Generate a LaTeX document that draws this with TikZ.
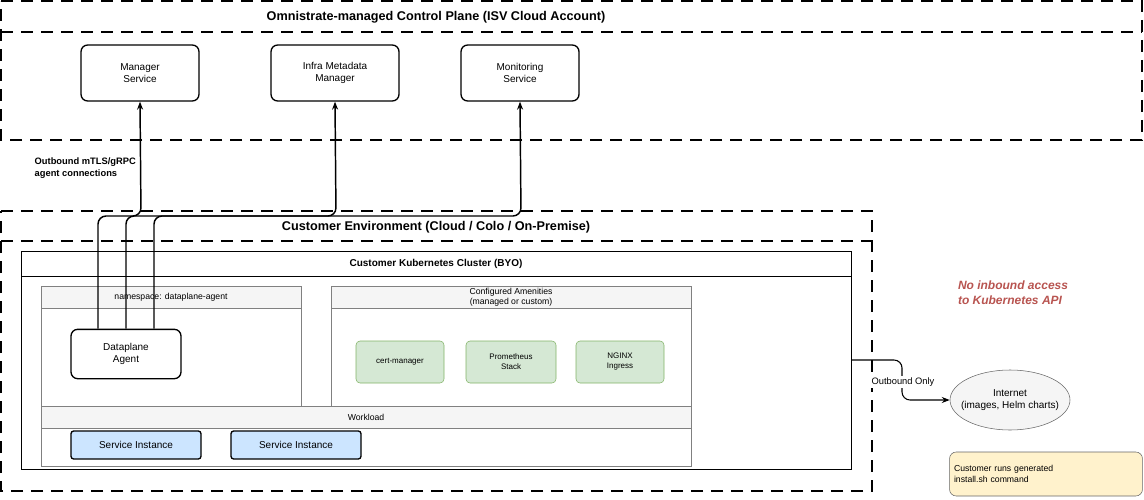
\documentclass[tikz,border=0pt]{standalone}
\usepackage{fontspec}
\setmainfont{Liberation Sans}
\usetikzlibrary{arrows.meta}
\usetikzlibrary{shapes.geometric}
\definecolor{hdrgray}{HTML}{F5F5F5}
\definecolor{amgreen}{HTML}{D5E8D4}
\definecolor{amgreenline}{HTML}{82B366}
\definecolor{instblue}{HTML}{CCE5FF}
\definecolor{noteyellow}{HTML}{FFF2CC}
\definecolor{notered}{HTML}{B85450}
\tikzset{
  zone/.style={draw, line width=1.4pt, dash pattern=on 9pt off 6pt},
  svc/.style={draw, rounded corners=5pt, line width=1pt, align=center, font=\fontsize{7.5}{9}\selectfont},
  amen/.style={draw=amgreenline, fill=amgreen, rounded corners=3pt, align=center, font=\fontsize{6}{7.5}\selectfont},
  inst/.style={draw, fill=instblue, rounded corners=2pt, line width=1pt, font=\fontsize{7.5}{9}\selectfont},
  hdr/.style={draw=gray, fill=hdrgray},
  conn/.style={line width=1.1pt, rounded corners=6pt, -{Stealth[length=6pt]}},
}
\begin{document}
\begin{tikzpicture}[x=0.75pt, y=-0.75pt]
    \useasboundingbox (0,0) rectangle (1144,499);

    % control plane
    \draw[zone] (1,1) -- (1142,1) -- (1142,140) -- (1,140) -- cycle;
    \draw[zone] (1,32) -- (1142,32);
    \node[font=\bfseries\fontsize{9.5}{11}\selectfont] (cptitle) at (436,17) {Omnistrate-managed Control Plane (ISV Cloud Account)};
    \node[svc, minimum width=88.5pt, minimum height=42pt] (mgr) at (140,73) {Manager\\Service};
    \node[svc, minimum width=96pt, minimum height=42pt] (infra) at (335,73) {Infra Metadata\\Manager};
    \node[svc, minimum width=88.5pt, minimum height=42pt] (mon) at (520,73) {Monitoring\\Service};
    \node[anchor=west, align=left, font=\bfseries\fontsize{7}{9}\selectfont] (outlbl) at (30,168) {Outbound mTLS/gRPC\\agent connections};

    % customer environment
    \draw[zone] (1,211) -- (872,211) -- (872,491) -- (1,491) -- cycle;
    \draw[zone] (1,241) -- (872,241);
    \node[font=\bfseries\fontsize{9.5}{11}\selectfont] (cetitle) at (436,227) {Customer Environment (Cloud / Colo / On-Premise)};

    % cluster
    \draw (21,251) rectangle (851,469);
    \draw (21,276) -- (851,276);
    \node[font=\bfseries\fontsize{7.5}{9}\selectfont] (k8s) at (436,264) {Customer Kubernetes Cluster (BYO)};

    % namespace
    \draw[hdr] (41,286) rectangle (301,308);
    \draw[draw=gray] (41,308) rectangle (301,406);
    \node[font=\fontsize{6.5}{8}\selectfont] (nstitle) at (171,297) {namespace: dataplane-agent};
    \node[svc, minimum width=82.5pt, minimum height=37pt] (agent) at (126,354) {Dataplane\\Agent};

    % amenities
    \draw[hdr] (331,286) rectangle (691,308);
    \draw[draw=gray] (331,308) rectangle (691,406);
    \node[align=center, font=\fontsize{6.5}{7.5}\selectfont] (amtitle) at (511,297) {Configured Amenities\\(managed or custom)};
    \node[amen, minimum width=66pt, minimum height=31.5pt] (cert) at (400,362) {cert-manager};
    \node[amen, minimum width=67.5pt, minimum height=31.5pt] (prom) at (511,362) {Prometheus\\Stack};
    \node[amen, minimum width=66pt, minimum height=31.5pt] (nginx) at (620,362) {NGINX\\Ingress};

    % workload
    \draw[hdr] (41,406) rectangle (691,428);
    \draw[draw=gray] (41,428) rectangle (691,466);
    \node[font=\fontsize{6.5}{8}\selectfont] (wltitle) at (366,417) {Workload};
    \node[inst, minimum width=97.5pt, minimum height=21pt] (inst1) at (136,445) {Service Instance};
    \node[inst, minimum width=97.5pt, minimum height=21pt] (inst2) at (296,445) {Service Instance};

    % agent connections
    \draw[conn] ([xshift=-21pt]agent.north) |- (141,216) -- (mgr.south);
    \draw[conn] (agent.north) |- (336,216) -- (infra.south);
    \draw[conn] ([xshift=21pt]agent.north) |- (521,216) -- (mon.south);

    % outside
    \node[draw=gray!80!black, fill=hdrgray, ellipse, inner xsep=-7pt, inner ysep=0pt, minimum width=90pt, minimum height=45pt, align=center, font=\fontsize{7.5}{9}\selectfont] (net) at (1010,400) {Internet\\(images, Helm charts)};
    \coordinate (clout) at (851,360);
    \draw[line width=0.8pt, rounded corners=6pt, -{Stealth[length=6pt]}] (clout) -- (902,360) -- (902,400) -- (net.west);
    \node[fill=white, inner sep=1pt, font=\fontsize{7}{8}\selectfont] (outonly) at (903,382) {Outbound Only};
    \node[align=left, text=notered, font=\bfseries\itshape\fontsize{9}{11.5}\selectfont] (noin) at (1013,293) {No inbound access\\to Kubernetes API};
    \node[draw=gray!80!black, fill=noteyellow, rounded corners=5pt, minimum width=142pt, minimum height=33pt, align=left, text width=138pt, font=\fontsize{6.5}{8}\selectfont] (note) at (1046,474) {Customer runs generated\\install.sh command};
\end{tikzpicture}
\end{document}
